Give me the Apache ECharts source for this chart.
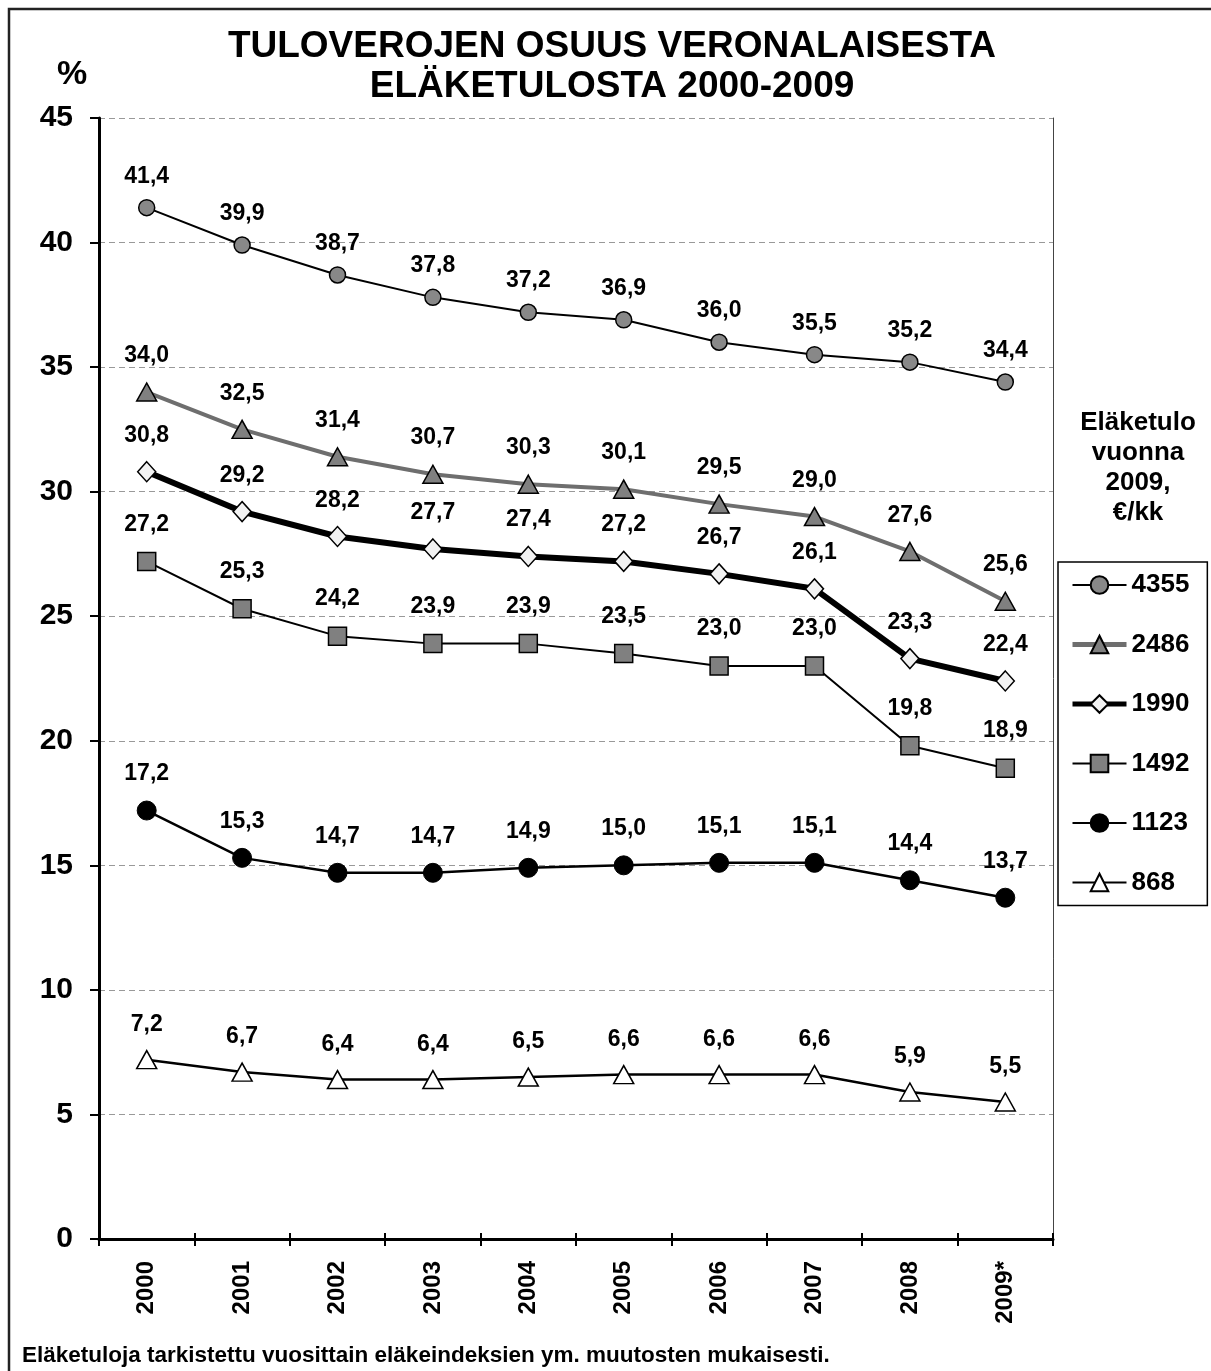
<!DOCTYPE html>
<html><head><meta charset="utf-8">
<script src="https://cdn.jsdelivr.net/npm/echarts@6/dist/echarts.min.js"></script>
<style>html,body{margin:0;padding:0;background:#fff}#c{width:1211px;height:1371px}</style>
</head><body><div id="c"></div>
<script>
const years = ['2000','2001','2002','2003','2004','2005','2006','2007','2008','2009*'];
const s4355 = [41.4,39.9,38.7,37.8,37.2,36.9,36.0,35.5,35.2,34.4];
const s2486 = [34.0,32.5,31.4,30.7,30.3,30.1,29.5,29.0,27.6,25.6];
const s1990 = [30.8,29.2,28.2,27.7,27.4,27.2,26.7,26.1,23.3,22.4];
const s1492 = [27.2,25.3,24.2,23.9,23.9,23.5,23.0,23.0,19.8,18.9];
const s1123 = [17.2,15.3,14.7,14.7,14.9,15.0,15.1,15.1,14.4,13.7];
const s868  = [7.2,6.7,6.4,6.4,6.5,6.6,6.6,6.6,5.9,5.5];
const seriesNames = ['4355','2486','1990','1492','1123','868'];
const yTicks = {min:0, max:45, interval:5};

const FONT = '"Liberation Sans", Arial, sans-serif';
const chart = echarts.init(document.getElementById('c'), null, {renderer:'canvas'});
const fmt = p => p.value.toFixed(1).replace('.', ',');
function lbl(dist){ return {show:true, position:'top', distance:dist, formatter:fmt,
  color:'#000', fontWeight:'bold', fontSize:23, fontFamily:FONT}; }
function ser(name, data, opt){
  return Object.assign({type:'line', name, data, xAxisIndex:0, yAxisIndex:0, z:5,
    symbolKeepAspect:true, animation:false, label:lbl(14)}, opt);
}
const option = {
  animation:false,
  backgroundColor:'#fff',
  title:{text:'TULOVEROJEN OSUUS VERONALAISESTA\nELÄKETULOSTA 2000-2009', left:607, top:22, textAlign:'center',
    textStyle:{fontFamily:FONT, fontWeight:'bold', fontSize:37, lineHeight:40, color:'#000'}},
  grid:{left:99, right:158, top:118, bottom:132, containLabel:false},
  legend:{orient:'vertical', left:1058, top:562, width:130,
    data:[{name:'4355'},{name:'2486', lineStyle:{width:5}},{name:'1990', lineStyle:{width:5}},{name:'1492'},{name:'1123'},{name:'868'}],
    borderColor:'#000', borderWidth:1.5, padding:[10,18,10,12],
    itemWidth:54, itemHeight:22, itemGap:33.5,
    textStyle:{fontFamily:FONT, fontWeight:'bold', fontSize:26, color:'#000'}},
  xAxis:[{type:'category', data:years, boundaryGap:true,
    axisLine:{lineStyle:{color:'#000', width:3}},
    axisTick:{show:true, length:7, interval:0, lineStyle:{color:'#000', width:2}},
    axisLabel:{rotate:90, margin:22, interval:0, fontFamily:FONT, fontWeight:'bold', fontSize:24, color:'#000'},
    splitLine:{show:false}},
   {type:'category', data:years, boundaryGap:true, position:'bottom',
    axisLine:{show:false}, axisLabel:{show:false},
    axisTick:{show:true, inside:true, length:6, interval:0, lineStyle:{color:'#000', width:2}}}],
  yAxis:[{type:'value', min:yTicks.min, max:yTicks.max, interval:yTicks.interval,
    axisLine:{show:true, lineStyle:{color:'#000', width:3}},
    axisTick:{show:true, length:9, lineStyle:{color:'#000', width:2}},
    axisLabel:{margin:26, fontFamily:FONT, fontWeight:'bold', fontSize:30, color:'#000'},
    splitLine:{show:true, lineStyle:{color:'#999', width:1.2, type:[6,4]}}},
   {type:'value', min:yTicks.min, max:yTicks.max, interval:yTicks.interval, position:'right',
    axisLine:{show:true, lineStyle:{color:'#444', width:1}}, axisTick:{show:false},
    axisLabel:{show:false}, splitLine:{show:false}}],
  graphic:[
    {type:'rect', shape:{x:9, y:9, width:1230, height:1400}, style:{fill:'none', stroke:'#222', lineWidth:2.5}, silent:true, z:-1},
    {type:'text', left:57, top:58, style:{text:'%', font:'bold 34px '+FONT, fill:'#000'}},
    {type:'text', x:1138, y:408, style:{text:'Eläketulo\nvuonna\n2009,\n€/kk', font:'bold 26px '+FONT, fill:'#000', align:'center', lineHeight:30}},
    {type:'text', left:22, top:1344, style:{text:'Eläketuloja tarkistettu vuosittain eläkeindeksien ym. muutosten mukaisesti.', font:'bold 22.5px '+FONT, fill:'#000'}}
  ],
  series:[
    ser('4355', s4355, {symbol:'circle', symbolSize:16, lineStyle:{color:'#000', width:2},
      itemStyle:{color:'#888', borderColor:'#000', borderWidth:1.5}, label:lbl(11)}),
    ser('2486', s2486, {symbol:'triangle', symbolSize:[20,18], lineStyle:{color:'#6e6e6e', width:4},
      itemStyle:{color:'#808080', borderColor:'#000', borderWidth:1.5}, label:lbl(15)}),
    ser('1990', s1990, {symbol:'diamond', symbolSize:[18,20], lineStyle:{color:'#000', width:6},
      itemStyle:{color:'#f2f2f2', borderColor:'#000', borderWidth:1.5}, label:lbl(14)}),
    ser('1492', s1492, {symbol:'rect', symbolSize:18, lineStyle:{color:'#000', width:2},
      itemStyle:{color:'#808080', borderColor:'#000', borderWidth:1.5}, label:lbl(16)}),
    ser('1123', s1123, {symbol:'circle', symbolSize:19, lineStyle:{color:'#000', width:2.5},
      itemStyle:{color:'#000', borderColor:'#000', borderWidth:1}, label:lbl(15)}),
    ser('868', s868, {symbol:'triangle', symbolSize:[20,18], lineStyle:{color:'#000', width:2.5},
      itemStyle:{color:'#fff', borderColor:'#000', borderWidth:1.5}, label:lbl(14)})
  ]
};
chart.setOption(option);
</script></body></html>
